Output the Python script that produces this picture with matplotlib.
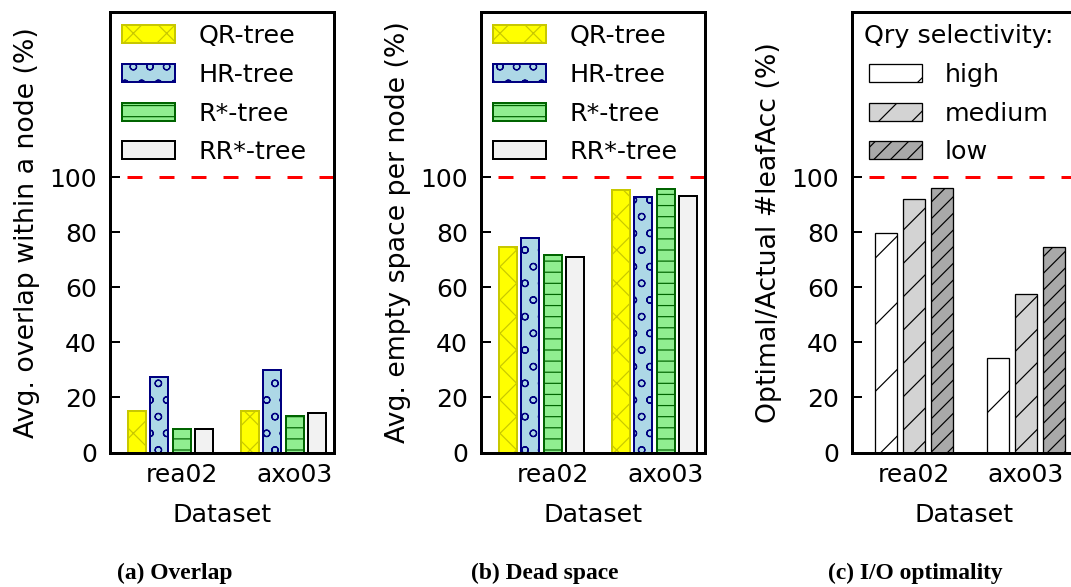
import numpy as np
import matplotlib
matplotlib.use("Agg")
import matplotlib.pyplot as plt

# figure is laid out in pixels; a high dpi keeps the hatch patterns coarse
DPI = 400
W, H = 1071, 587
P = 72 / DPI  # points per pixel

datasets = ["rea02", "axo03"]

trees = ["QR-tree", "HR-tree", "R*-tree", "RR*-tree"]
overlap = {
    "QR-tree": [15.0, 15.0],
    "HR-tree": [27.5, 29.8],
    "R*-tree": [8.4, 13.2],
    "RR*-tree": [8.4, 14.5],
}
dead_space = {
    "QR-tree": [74.8, 95.5],
    "HR-tree": [77.9, 92.7],
    "R*-tree": [71.6, 95.7],
    "RR*-tree": [71.0, 93.0],
}

selectivity = ["high", "medium", "low"]
io_optimality = {
    "high": [79.7, 34.5],
    "medium": [92.1, 57.5],
    "low": [96.1, 74.7],
}

tree_style = {
    "QR-tree": dict(color="#ffff00", edgecolor="#c8c800", hatch="xxxx"),
    "HR-tree": dict(color="#add8e6", edgecolor="#000080", hatch="oooo"),
    "R*-tree": dict(color="#90ee90", edgecolor="#006400", hatch="------"),
    "RR*-tree": dict(color="#f2f2f2", edgecolor="black", hatch=None),
}
sel_style = {
    "high": dict(color="white", hatch="//"),
    "medium": dict(color="#d3d3d3", hatch="////"),
    "low": dict(color="#a9a9a9", hatch="////////"),
}

FS = 25.5 * P       # legend / xlabel
FS_TICK = 25 * P
FS_YLAB = 26.8 * P
plt.rcParams.update({
    "font.family": "DejaVu Sans",
    "font.size": FS,
    "hatch.linewidth": 1.2 * P,
    "lines.scale_dashes": False,
})

fig = plt.figure(figsize=(W / DPI, H / DPI), dpi=DPI)

LEG = dict(loc="upper left", bbox_to_anchor=(0, 1), frameon=False,
           fontsize=FS, borderaxespad=0, borderpad=0.48,
           handlelength=2.08, handleheight=0.7,
           handletextpad=0.9, labelspacing=0.575)


def make_axes(left_px, tick_shift=0.0):
    ax = fig.add_axes([left_px / W, (H - 452.5) / H, 224 / W, 440.5 / H])
    for s in ax.spines.values():
        s.set_linewidth(3 * P)
    ax.set_ylim(0, 160)
    ax.set_yticks(np.arange(0, 101, 20))
    ax.tick_params(axis="y", direction="in", length=10 * P, width=2 * P,
                   pad=13 * P, labelsize=FS_TICK, right=False)
    ax.tick_params(axis="x", length=0, pad=10 * P, labelsize=FS_TICK)
    ax.set_xticks(np.arange(len(datasets)) + tick_shift)
    ax.set_xticklabels(datasets)
    ax.set_xlabel("Dataset", fontsize=FS, labelpad=16 * P)
    ax.axhline(100, color="red", lw=3 * P,
               linestyle=(15 * P, (15 * P, 17 * P)), zorder=1)
    return ax


def tree_panel(ax, data, ylabel):
    x = np.arange(len(datasets))
    for i, t in enumerate(trees):
        st = tree_style[t]
        ax.bar(x + (i - 1.5) * 0.2, data[t], width=0.16,
               color=st["color"], edgecolor=st["edgecolor"],
               hatch=st["hatch"], lw=2 * P, label=t, zorder=2)
    ax.set_xlim(-0.535, 1.447)
    ax.set_ylabel(ylabel, fontsize=FS_YLAB, labelpad=9 * P)
    ax.legend(**LEG)


ax_a = make_axes(110, tick_shift=0.1)
tree_panel(ax_a, overlap, "Avg. overlap within a node (%)")

ax_b = make_axes(481, tick_shift=0.1)
tree_panel(ax_b, dead_space, "Avg. empty space per node (%)")

ax_c = make_axes(852)
x = np.arange(len(datasets))
for i, s in enumerate(selectivity):
    st = sel_style[s]
    ax_c.bar(x + (i - 1) * 0.25, io_optimality[s], width=0.19,
             color=st["color"], edgecolor="black", hatch=st["hatch"],
             lw=1.3 * P, label=s, zorder=2)
ax_c.set_xlim(-0.554, 1.446)
ax_c.set_ylabel("Optimal/Actual #leafAcc (%)", fontsize=FS_YLAB, labelpad=9 * P)
ax_c.legend(title="Qry selectivity:", title_fontsize=FS, **LEG)

# sub-captions
for cx, txt in [(175, "(a) Overlap"), (545, "(b) Dead space"),
                (915, "(c) I/O optimality")]:
    fig.text(cx / W, 1 - 573 / H, txt, ha="center", va="center",
             family="Liberation Serif", weight="bold", fontsize=23.5 * P)

fig.savefig("out.png", dpi=DPI)
